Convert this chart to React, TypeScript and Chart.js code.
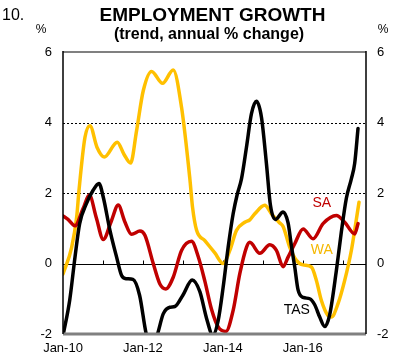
import React, { useEffect, useRef } from 'react';
import { Chart, registerables } from 'chart.js';

Chart.register(...registerables);

// x values are months since Jan-10
const xTickLabels = ['Jan-10', 'Jan-12', 'Jan-14', 'Jan-16'];
const seriesNames = ['TAS', 'SA', 'WA'];

const tasMonths = [0, 2, 3.6, 5, 7, 9, 10.8, 12.1, 14.1, 16.1, 17.6, 19, 21, 23, 25, 26.8, 28.4, 30.1, 32.1, 33.6, 36, 38.8, 41.1, 43.1, 45, 46.6, 48.1, 49.6, 51.1, 52.3, 53.6, 55.1, 56.6, 58.1, 59.6, 61.1, 62.3, 63.8, 66.1, 67.6, 68.6, 69.6, 70.6, 72.1, 74.1, 75.6, 77.1, 78.6, 80.1, 82.1, 83.6, 85.1, 86.6, 87.6, 88.6];
const tasValues = [-2.05, -1.05, 0.18, 1.13, 1.69, 2.07, 2.27, 1.88, 0.94, 0.18, -0.34, -0.43, -0.45, -0.9, -2.0, -2.4, -2.0, -1.43, -1.24, -1.22, -0.9, -0.47, -0.8, -1.55, -2.03, -1.62, -0.67, 0.46, 1.41, 1.95, 2.4, 3.3, 4.25, 4.6, 4.15, 2.83, 1.65, 1.25, 1.46, 1.15, 0.5, -0.1, -0.75, -0.96, -1.0, -1.17, -1.52, -1.79, -1.45, -0.2, 0.9, 1.85, 2.4, 2.84, 3.83];

const saMonths = [0, 1.5, 3.6, 6, 7.9, 10, 12.1, 14.5, 16.6, 18.5, 20.6, 23.1, 24.6, 27.1, 29.1, 30.9, 33.1, 35.6, 38.6, 40.6, 42.6, 44.6, 46.6, 48.9, 51.1, 53.1, 55.1, 56.1, 59.1, 62.1, 64.1, 66.1, 67.6, 69.6, 72.1, 75.1, 78.1, 82.1, 84.6, 87.6, 88.6];
const saValues = [1.35, 1.25, 1.07, 1.55, 1.94, 1.3, 0.68, 1.2, 1.66, 1.2, 0.83, 0.92, 0.8, 0, -0.58, -0.72, -0.39, 0.37, 0.63, 0.2, -0.5, -1.3, -1.8, -1.93, -1.33, -0.29, 0.46, 0.6, 0.29, 0.53, 0.37, -0.09, 0.18, 0.56, 0.98, 0.7, 1.13, 1.36, 1.17, 0.84, 1.13];

const waMonths = [0, 2.6, 4.1, 4.8, 6.6, 8.1, 10.2, 12.4, 16.3, 18.3, 20.3, 22.1, 24.1, 26.6, 29.9, 33.1, 35.6, 38.1, 38.9, 40.1, 42.6, 45.6, 48.1, 50.1, 52.1, 54.6, 56.1, 57.6, 60.6, 62.6, 65.1, 66.1, 68.1, 70.1, 72.1, 74.6, 76.1, 77.6, 79.6, 80.6, 82.6, 84.6, 86.6, 87.9, 88.9];
const waValues = [-0.3, 0.46, 1.31, 2.07, 3.58, 3.91, 3.3, 3.02, 3.44, 3.1, 2.85, 3.77, 4.9, 5.45, 5.11, 5.49, 4.43, 2.4, 1.6, 0.95, 0.65, 0.3, 0.0, 0.37, 0.94, 1.17, 1.24, 1.41, 1.65, 1.41, 1.15, 1.05, 0.46, 0.09, -0.04, -0.1, -0.48, -1.05, -1.48, -1.52, -1.14, -0.48, 0.37, 1.13, 1.74];

// label anchor positions (month, value)
const labelMonths = [70.2, 77.7, 77.7];
const labelValues = [-1.33, 1.7, 0.37];

const FONT = '"Liberation Sans", Arial, Helvetica, sans-serif';
const colors = ['#000000', '#C00000', '#FFC000'];

function pts(ms: number[], vs: number[]) {
  return ms.map((m, i) => ({ x: m, y: vs[i] }));
}

const decor = {
  id: 'decor',
  beforeDatasetsDraw(chart: any) {
    const { ctx, chartArea: a, scales } = chart;
    const y = scales.y;
    const x = scales.x;
    ctx.save();
    ctx.strokeStyle = '#000';
    ctx.lineWidth = 1;
    ctx.setLineDash([2, 2]);
    for (const v of [2, 4]) {
      const py = Math.round(y.getPixelForValue(v)) + 0.5;
      ctx.beginPath();
      ctx.moveTo(a.left, py);
      ctx.lineTo(a.right, py);
      ctx.stroke();
    }
    ctx.setLineDash([]);
    const z = Math.round(y.getPixelForValue(0)) + 0.5;
    ctx.beginPath();
    ctx.moveTo(a.left, z);
    ctx.lineTo(a.right, z);
    ctx.stroke();
    for (let m = 12; m < x.max; m += 12) {
      const px = Math.round(x.getPixelForValue(m)) + 0.5;
      ctx.beginPath();
      ctx.moveTo(px, z);
      ctx.lineTo(px, z - 4);
      ctx.stroke();
    }
    ctx.restore();
  },
  afterDatasetsDraw(chart: any) {
    const { ctx, chartArea: a, scales } = chart;
    ctx.save();
    // frame
    ctx.strokeStyle = '#808080';
    ctx.lineWidth = 2;
    ctx.beginPath();
    ctx.moveTo(a.left, a.top);
    ctx.lineTo(a.right, a.top);
    ctx.stroke();
    ctx.lineWidth = 3;
    ctx.beginPath();
    ctx.moveTo(a.left, a.bottom);
    ctx.lineTo(a.right, a.bottom);
    ctx.stroke();
    ctx.strokeStyle = '#000';
    ctx.lineWidth = 1.5;
    ctx.beginPath();
    ctx.moveTo(a.left, a.top - 1);
    ctx.lineTo(a.left, a.bottom);
    ctx.moveTo(a.right, a.top - 1);
    ctx.lineTo(a.right, a.bottom);
    ctx.stroke();
    // series labels
    ctx.font = `14px ${FONT}`;
    ctx.textAlign = 'center';
    ctx.textBaseline = 'middle';
    seriesNames.forEach((n, i) => {
      ctx.fillStyle = i === 0 ? '#000' : i === 1 ? '#C00000' : '#F5B800';
      ctx.fillText(n, scales.x.getPixelForValue(labelMonths[i]), scales.y.getPixelForValue(labelValues[i]));
    });
    ctx.restore();
  },
  afterDraw(chart: any) {
    const { ctx } = chart;
    ctx.save();
    ctx.fillStyle = '#000';
    ctx.textBaseline = 'alphabetic';
    ctx.textAlign = 'left';
    ctx.font = `16px ${FONT}`;
    ctx.fillText('10.', 2, 20);
    ctx.textAlign = 'center';
    ctx.font = `bold 19px ${FONT}`;
    ctx.fillText('EMPLOYMENT GROWTH', 212.5, 21);
    ctx.font = `bold 16px ${FONT}`;
    ctx.fillText('(trend, annual % change)', 209, 39);
    ctx.font = `12px ${FONT}`;
    ctx.fillText('%', 41, 33);
    ctx.fillText('%', 383, 33);
    ctx.restore();
  },
};

export default function App() {
  const ref = useRef<HTMLCanvasElement | null>(null);
  useEffect(() => {
    if (!ref.current) return;
    const yTickOpts = {
      stepSize: 2,
      color: '#000',
      padding: 11,
      font: { family: FONT, size: 13 },
    };
    const chart = new Chart(ref.current, {
      type: 'line',
      data: {
        datasets: [
          { label: 'TAS', data: pts(tasMonths, tasValues), borderColor: colors[0] },
          { label: 'SA', data: pts(saMonths, saValues), borderColor: colors[1] },
          { label: 'WA', data: pts(waMonths, waValues), borderColor: colors[2] },
        ].map((d) => ({
          ...d,
          borderWidth: 3.5,
          pointRadius: 0,
          fill: false,
          cubicInterpolationMode: 'monotone' as const,
          clip: 0,
          borderCapStyle: 'round' as const,
          borderJoinStyle: 'round' as const,
        })),
      },
      options: {
        animation: false,
        responsive: false,
        maintainAspectRatio: false,
        layout: { padding: { top: 52, left: 0, right: 0, bottom: 0 } },
        plugins: { legend: { display: false }, tooltip: { enabled: false }, title: { display: false } },
        scales: {
          x: {
            type: 'linear',
            min: 0,
            max: 91,
            grid: { display: false, drawTicks: false },
            border: { display: false },
            ticks: {
              stepSize: 12,
              autoSkip: false,
              maxRotation: 0,
              padding: 7,
              color: '#000',
              font: { family: FONT, size: 13 },
              callback: (v: any) => {
                const n = Number(v);
                if (n % 24 === 0 && n / 24 < xTickLabels.length) return xTickLabels[n / 24];
                return null;
              },
            },
            afterFit: (s: any) => {
              s.height = 26;
            },
          },
          y: {
            position: 'left',
            min: -2,
            max: 6,
            grid: { display: false, drawTicks: false },
            border: { display: false },
            ticks: yTickOpts,
            afterFit: (s: any) => {
              s.width = 63;
            },
          },
          y2: {
            position: 'right',
            min: -2,
            max: 6,
            grid: { display: false, drawTicks: false },
            border: { display: false },
            ticks: yTickOpts,
            afterFit: (s: any) => {
              s.width = 34;
            },
          },
        },
      } as any,
      plugins: [decor],
    });
    return () => chart.destroy();
  }, []);
  return (
    <div style={{ position: 'absolute', left: 0, top: 0, width: 400, height: 360, background: '#fff' }}>
      <canvas ref={ref} width={400} height={360} style={{ width: 400, height: 360, display: 'block' }} />
    </div>
  );
}
